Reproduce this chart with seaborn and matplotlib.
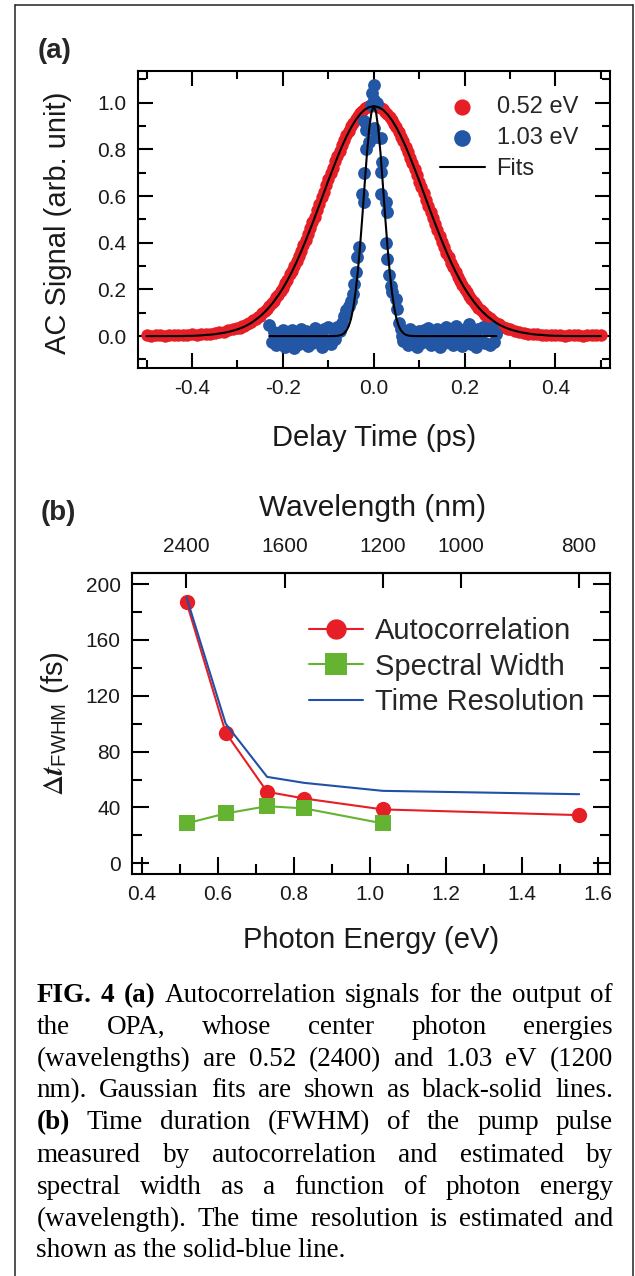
import numpy as np
import matplotlib
matplotlib.use("Agg")
import matplotlib.pyplot as plt
import seaborn as sns
from matplotlib.lines import Line2D
from matplotlib.ticker import MultipleLocator, NullLocator

# ---- panel (a): autocorrelation traces ----
delay_red = [-0.50, -0.49, -0.48, -0.47, -0.46, -0.45, -0.44, -0.43, -0.42, -0.41,
             -0.40, -0.39, -0.38, -0.37, -0.36, -0.35, -0.34, -0.33, -0.32, -0.31,
             -0.30, -0.29, -0.28, -0.27, -0.26, -0.25, -0.24, -0.23, -0.22, -0.21,
             -0.20, -0.19, -0.18, -0.17, -0.16, -0.15, -0.14, -0.13, -0.12, -0.11,
             -0.10, -0.09, -0.08, -0.07, -0.06, -0.05, -0.04, -0.03, -0.02, -0.01,
             0.00, 0.01, 0.02, 0.03, 0.04, 0.05, 0.06, 0.07, 0.08, 0.09,
             0.10, 0.11, 0.12, 0.13, 0.14, 0.15, 0.16, 0.17, 0.18, 0.19,
             0.20, 0.21, 0.22, 0.23, 0.24, 0.25, 0.26, 0.27, 0.28, 0.29,
             0.30, 0.31, 0.32, 0.33, 0.34, 0.35, 0.36, 0.37, 0.38, 0.39,
             0.40, 0.41, 0.42, 0.43, 0.44, 0.45, 0.46, 0.47, 0.48, 0.49, 0.50]
signal_red = [0.004, 0.002, 0.005, 0.003, 0.001, 0.004, 0.003, 0.006, 0.004, 0.005,
              0.007, 0.006, 0.008, 0.009, 0.011, 0.013, 0.016, 0.019, 0.024, 0.029,
              0.035, 0.042, 0.050, 0.061, 0.073, 0.088, 0.106, 0.127, 0.150, 0.178,
              0.207, 0.242, 0.279, 0.321, 0.366, 0.412, 0.461, 0.512, 0.566, 0.619,
              0.672, 0.722, 0.771, 0.818, 0.862, 0.898, 0.931, 0.957, 0.976, 0.984,
              0.988, 0.982, 0.972, 0.950, 0.924, 0.895, 0.852, 0.812, 0.762, 0.714,
              0.662, 0.611, 0.556, 0.504, 0.455, 0.404, 0.358, 0.314, 0.274, 0.236,
              0.203, 0.172, 0.146, 0.122, 0.102, 0.084, 0.069, 0.056, 0.045, 0.036,
              0.029, 0.023, 0.018, 0.014, 0.011, 0.009, 0.007, 0.005, 0.004, 0.006,
              0.003, 0.005, 0.002, 0.004, 0.003, 0.005, 0.002, 0.004, 0.003, 0.005, 0.004]
# extra red samples between the 0.01 steps (dense scan near the peak)
delay_red_half = [-0.295, -0.285, -0.275, -0.265, -0.255, -0.245, -0.235, -0.225, -0.215, -0.205,
                  -0.195, -0.185, -0.175, -0.165, -0.155, -0.145, -0.135, -0.125, -0.115, -0.105,
                  -0.095, -0.085, -0.075, -0.065, -0.055, -0.045, -0.035, -0.025, -0.015, -0.005,
                  0.005, 0.015, 0.025, 0.035, 0.045, 0.055, 0.065, 0.075, 0.085, 0.095,
                  0.105, 0.115, 0.125, 0.135, 0.145, 0.155, 0.165, 0.175, 0.185, 0.195,
                  0.205, 0.215, 0.225, 0.235, 0.245, 0.255, 0.265, 0.275, 0.285, 0.295]
signal_red_half = [0.035, 0.045, 0.055, 0.068, 0.081, 0.098, 0.117, 0.140, 0.166, 0.195,
                   0.228, 0.264, 0.302, 0.345, 0.390, 0.438, 0.488, 0.540, 0.594, 0.646,
                   0.698, 0.748, 0.795, 0.840, 0.880, 0.915, 0.944, 0.966, 0.980, 0.986,
                   0.984, 0.976, 0.960, 0.938, 0.909, 0.874, 0.834, 0.789, 0.741, 0.690,
                   0.638, 0.585, 0.532, 0.480, 0.430, 0.382, 0.337, 0.294, 0.255, 0.220,
                   0.188, 0.160, 0.134, 0.112, 0.092, 0.076, 0.062, 0.050, 0.040, 0.032]
fit_red = [0.000, 0.000, 0.000, 0.000, 0.000, 0.000, 0.000, 0.000, 0.000, 0.001,
           0.001, 0.002, 0.003, 0.005, 0.006, 0.008, 0.011, 0.014, 0.018, 0.023,
           0.029, 0.036, 0.045, 0.056, 0.070, 0.085, 0.103, 0.124, 0.148, 0.175,
           0.205, 0.239, 0.276, 0.317, 0.361, 0.408, 0.457, 0.508, 0.560, 0.613,
           0.666, 0.716, 0.766, 0.813, 0.855, 0.893, 0.925, 0.951, 0.970, 0.981,
           0.985, 0.981, 0.970, 0.951, 0.925, 0.893, 0.855, 0.813, 0.766, 0.716,
           0.666, 0.613, 0.560, 0.508, 0.457, 0.408, 0.361, 0.317, 0.276, 0.239,
           0.205, 0.175, 0.148, 0.124, 0.103, 0.085, 0.070, 0.056, 0.045, 0.036,
           0.029, 0.023, 0.018, 0.014, 0.011, 0.008, 0.006, 0.005, 0.003, 0.002,
           0.001, 0.001, 0.000, 0.000, 0.000, 0.000, 0.000, 0.000, 0.000, 0.000, 0.000]

delay_blue = [-0.230, -0.225, -0.220, -0.215, -0.210, -0.205, -0.200, -0.195, -0.190, -0.185,
              -0.180, -0.175, -0.170, -0.165, -0.160, -0.155, -0.150, -0.145, -0.140, -0.135,
              -0.130, -0.125, -0.120, -0.115, -0.110, -0.105, -0.100, -0.095, -0.090, -0.085,
              -0.080, -0.075, -0.070, -0.065, -0.060, -0.054, -0.050, -0.046, -0.043, -0.039,
              -0.036, -0.032, -0.025, -0.021, -0.021, -0.018, -0.010, -0.018, -0.021, -0.007,
              -0.003, 0.000, 0.000, 0.008, 0.001, 0.004, 0.015, 0.019, 0.015, 0.015,
              0.026, 0.030, 0.026, 0.030, 0.034, 0.037, 0.041, 0.048, 0.052, 0.056,
              0.060, 0.063, 0.065, 0.070, 0.075, 0.080, 0.085, 0.090, 0.095, 0.100,
              0.105, 0.110, 0.115, 0.120, 0.125, 0.130, 0.135, 0.140, 0.145, 0.150,
              0.155, 0.160, 0.165, 0.170, 0.175, 0.180, 0.185, 0.190, 0.195, 0.200,
              0.205, 0.210, 0.215, 0.220, 0.225, 0.230, 0.235, 0.240, 0.245, 0.250,
              0.255, 0.260, 0.265, 0.270]
signal_blue = [0.048, -0.025, 0.018, -0.040, 0.010, -0.030, 0.025, -0.045, 0.015, -0.020,
               0.028, -0.050, 0.005, -0.035, 0.030, -0.015, 0.020, -0.042, 0.012, -0.028,
               0.035, -0.010, 0.022, -0.048, 0.030, -0.020, 0.038, -0.035, 0.025, -0.012,
               0.040, 0.020, 0.055, 0.086, 0.110, 0.129, 0.150, 0.180, 0.223, 0.273,
               0.337, 0.380, 0.610, 0.575, 0.700, 0.800, 0.833, 0.884, 0.920, 0.990,
               1.040, 1.077, 1.010, 1.000, 0.890, 0.855, 0.850, 0.747, 0.704, 0.610,
               0.575, 0.530, 0.400, 0.330, 0.260, 0.216, 0.190, 0.158, 0.115, 0.057,
               0.030, 0.000, -0.020, 0.015, -0.040, 0.030, -0.025, 0.010, -0.045, 0.022,
               -0.030, 0.028, -0.015, 0.035, -0.040, 0.018, -0.022, 0.030, -0.048, 0.012,
               -0.030, 0.040, -0.018, 0.025, -0.038, 0.045, -0.012, 0.020, -0.042, 0.032,
               -0.025, 0.050, -0.035, 0.015, -0.045, 0.030, -0.020, 0.040, -0.030, 0.025,
               -0.040, 0.035, -0.025, 0.010]
delay_fit_blue = [-0.230, -0.150, -0.100, -0.090, -0.080, -0.075, -0.070, -0.065, -0.060, -0.055,
                  -0.050, -0.045, -0.040, -0.035, -0.030, -0.025, -0.020, -0.015, -0.010, -0.005,
                  0.000, 0.005, 0.010, 0.015, 0.020, 0.025, 0.030, 0.035, 0.040, 0.045,
                  0.050, 0.055, 0.060, 0.065, 0.070, 0.075, 0.080, 0.090, 0.100, 0.150, 0.270]
fit_blue = [0.000, 0.000, 0.000, 0.000, 0.001, 0.003, 0.006, 0.013, 0.024, 0.043,
            0.074, 0.122, 0.189, 0.278, 0.389, 0.515, 0.651, 0.781, 0.888, 0.960,
            0.985, 0.960, 0.888, 0.781, 0.651, 0.515, 0.389, 0.278, 0.189, 0.122,
            0.074, 0.043, 0.024, 0.013, 0.006, 0.003, 0.001, 0.000, 0.000, 0.000, 0.000]

# ---- panel (b): pulse duration vs photon energy ----
photon_energy = [0.517, 0.620, 0.729, 0.827, 1.033, 1.550]
fwhm_autocorr = [187.0, 93.6, 51.2, 46.4, 38.6, 34.5]
energy_spectral = [0.517, 0.620, 0.729, 0.827, 1.033]
fwhm_spectral = [28.6, 35.7, 40.9, 39.3, 28.6]
fwhm_resolution = [190.5, 100.0, 61.9, 57.6, 51.9, 49.5]
wavelength_ticks = [2400, 1600, 1200, 1000, 800]

caption_lines = [
    [("FIG.", True), ("4", True), ("(a)", True), ("Autocorrelation", False), ("signals", False),
     ("for", False), ("the", False), ("output", False), ("of", False)],
    [("the", False), ("OPA,", False), ("whose", False), ("center", False), ("photon", False),
     ("energies", False)],
    [("(wavelengths)", False), ("are", False), ("0.52", False), ("(2400)", False), ("and", False),
     ("1.03", False), ("eV", False), ("(1200", False)],
    [("nm).", False), ("Gaussian", False), ("fits", False), ("are", False), ("shown", False),
     ("as", False), ("black-solid", False), ("lines.", False)],
    [("(b)", True), ("Time", False), ("duration", False), ("(FWHM)", False), ("of", False),
     ("the", False), ("pump", False), ("pulse", False)],
    [("measured", False), ("by", False), ("autocorrelation", False), ("and", False),
     ("estimated", False), ("by", False)],
    [("spectral", False), ("width", False), ("as", False), ("a", False), ("function", False),
     ("of", False), ("photon", False), ("energy", False)],
    [("(wavelength).", False), ("The", False), ("time", False), ("resolution", False), ("is", False),
     ("estimated", False), ("and", False)],
    [("shown as the solid-blue line.", False)],
]

RED = "#e61e25"
BLUE = "#2356a5"
GREEN = "#64b432"
LINE_BLUE = "#2050a8"

sns.set_theme(style="ticks")
plt.rcParams["font.family"] = ["Liberation Sans", "DejaVu Sans"]
plt.rcParams["mathtext.fontset"] = "stix"
plt.rcParams["axes.unicode_minus"] = False

W, H = 635, 1276
fig = plt.figure(figsize=(W / 100, H / 100), dpi=100, facecolor="white")


def axes_px(left, top, right, bottom):
    return fig.add_axes([left / W, 1 - bottom / H, (right - left) / W, (bottom - top) / H])


ax1 = axes_px(137.5, 70.7, 610, 368.3)
ax2 = axes_px(131.8, 573.0, 610, 874.3)

# ---------- (a) ----------
sns.scatterplot(x=delay_red + delay_red_half, y=signal_red + signal_red_half, color=RED,
                s=80, linewidth=0, ax=ax1, label="0.52 eV", zorder=2)
sns.scatterplot(x=delay_blue, y=signal_blue, color=BLUE, s=85, linewidth=0, ax=ax1,
                label="1.03 eV", zorder=3)
sns.lineplot(x=delay_red, y=fit_red, color="black", lw=1.5, ax=ax1, label="Fits",
             estimator=None, zorder=4)
sns.lineplot(x=delay_fit_blue, y=fit_blue, color="black", lw=1.5, ax=ax1,
             estimator=None, zorder=4)

ax1.set_xlim(-0.52, 0.52)
ax1.set_ylim(-0.138, 1.137)
ax1.xaxis.set_major_locator(MultipleLocator(0.2))
ax1.xaxis.set_minor_locator(MultipleLocator(0.1))
ax1.yaxis.set_major_locator(MultipleLocator(0.2))
ax1.yaxis.set_minor_locator(MultipleLocator(0.1))
ax1.tick_params(which="both", direction="in", top=True, right=True, width=1.5,
                color="black", labelsize=15, labelcolor="#1a1a1a")
ax1.tick_params(which="major", length=10.5, pad=8)
ax1.tick_params(which="minor", length=5.5)
for sp in ax1.spines.values():
    sp.set_linewidth(1.5)
    sp.set_color("black")

ax1.set_xlabel("Delay Time (ps)", fontsize=21, va="center", color="#1a1a1a")
ax1.xaxis.set_label_coords(0.5, -0.234)
ax1.set_ylabel("AC Signal (arb. unit)", fontsize=21, va="center", color="#1a1a1a")
ax1.yaxis.set_label_coords(-0.168, 0.49)

ax1.legend(loc="upper left", bbox_to_anchor=(0.64, 0.914), frameon=False, fontsize=17,
           markerscale=1.3, handlelength=1.9, handletextpad=0.5, labelspacing=0.37,
           borderpad=0, borderaxespad=0)

# ---------- (b) ----------
sns.lineplot(x=photon_energy, y=fwhm_autocorr, color=RED, lw=1.5, marker="o", markersize=11,
             markeredgewidth=0, ax=ax2, label="Autocorrelation", estimator=None, zorder=3)
sns.lineplot(x=energy_spectral, y=fwhm_spectral, color=GREEN, lw=1.5, marker="s",
             markersize=11.5, markeredgewidth=0, ax=ax2, label="Spectral Width",
             estimator=None, zorder=4)
sns.lineplot(x=photon_energy, y=fwhm_resolution, color=LINE_BLUE, lw=1.5, ax=ax2,
             label="Time Resolution", estimator=None, zorder=5)

ax2.set_xlim(0.373, 1.631)
ax2.set_ylim(-7.9, 208)
ax2.xaxis.set_major_locator(MultipleLocator(0.2))
ax2.xaxis.set_minor_locator(MultipleLocator(0.1))
ax2.yaxis.set_major_locator(MultipleLocator(40))
ax2.yaxis.set_minor_locator(MultipleLocator(20))
ax2.tick_params(which="both", direction="in", top=False, right=True, width=1.5,
                color="black", labelsize=15, labelcolor="#1a1a1a")
ax2.tick_params(which="major", length=12, pad=8)
ax2.tick_params(which="minor", length=7.5)
for sp in ax2.spines.values():
    sp.set_linewidth(1.5)
    sp.set_color("black")


def energy_to_nm(e):
    e = np.asarray(e, dtype=float)
    with np.errstate(divide="ignore", invalid="ignore"):
        return 1239.84 / e


secax = ax2.secondary_xaxis("top", functions=(energy_to_nm, energy_to_nm))
secax.set_xticks(wavelength_ticks)
secax.set_xticklabels([str(w) for w in wavelength_ticks])
secax.xaxis.set_minor_locator(NullLocator())
secax.tick_params(direction="in", length=10.8, width=1.5, color="black", labelsize=15,
                  labelcolor="#1a1a1a", pad=12)
secax.spines["top"].set_linewidth(1.5)
secax.spines["top"].set_color("black")

ax2.set_xlabel("Photon Energy (eV)", fontsize=21, va="center", color="#1a1a1a")
ax2.xaxis.set_label_coords(0.5, -0.218)
ax2.set_ylabel(r"$\Delta\mathbfit{t}_{\mathregular{FWHM}}$ (fs)", fontsize=21, va="center",
               color="#1a1a1a")
ax2.yaxis.set_label_coords(-0.161, 0.5)
ax2.text(0.504, 1.216, "Wavelength (nm)", transform=ax2.transAxes, fontsize=21.5,
         ha="center", va="center", color="#1a1a1a")

ax2.legend(loc="upper left", bbox_to_anchor=(0.3706, 0.854), frameon=False, fontsize=21,
           markerscale=1.33, handlelength=1.85, handletextpad=0.41, labelspacing=0.26,
           borderpad=0, borderaxespad=0)

# panel tags
fig.text(55 / W, 1 - 51 / H, "(a)", fontsize=20, fontweight="bold", ha="center", va="center")
fig.text(58 / W, 1 - 513 / H, "(b)", fontsize=20, fontweight="bold", ha="center", va="center")

# outer frame (left, top, right)
frame_kw = dict(color="#222222", lw=1.1)
fig.add_artist(Line2D([15 / W, 15 / W], [1 - 4.5 / H, 0], **frame_kw))
fig.add_artist(Line2D([15 / W, 632.5 / W], [1 - 4.5 / H, 1 - 4.5 / H], **frame_kw))
fig.add_artist(Line2D([632.5 / W, 632.5 / W], [1 - 4.5 / H, 0], **frame_kw))

# caption, justified by hand
fig.canvas.draw()
renderer = fig.canvas.get_renderer()
cap_left, cap_right = 36.5, 613.0
baselines = [1002, 1034, 1066, 1097, 1129, 1162, 1194, 1226, 1257]
cap_font = dict(family=["Liberation Serif", "DejaVu Serif"], fontsize=19.5, color="black")
for i, (words, base) in enumerate(zip(caption_lines, baselines)):
    texts = []
    for word, bold in words:
        t = fig.text(0, 1 - base / H, word, va="baseline", ha="left",
                     fontweight="bold" if bold else "normal", **cap_font)
        texts.append(t)
    widths = [t.get_window_extent(renderer).width for t in texts]
    if len(texts) > 1:
        gap = (cap_right - cap_left - sum(widths)) / (len(texts) - 1)
    else:
        gap = 0
    x = cap_left
    for t, w in zip(texts, widths):
        t.set_x(x / W)
        x += w + gap

fig.savefig("out.png", dpi=100, facecolor="white")
